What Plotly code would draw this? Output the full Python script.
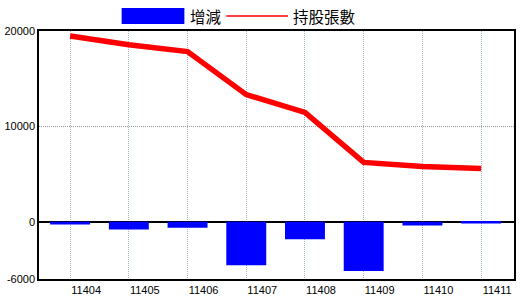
import plotly.graph_objects as go

months = ["11404", "11405", "11406", "11407", "11408", "11409", "11410", "11411"]
change = [-280, -800, -620, -4550, -1840, -5170, -380, -170]
holdings = [19480, 18560, 17840, 13330, 11460, 6220, 5800, 5590]
y_ticks = [-6000, 0, 10000, 20000]

W, H = 520, 300
L, R, T, B = 39, 4, 31, 20
pw, ph = W - L - R, H - T - B

def px_x(p):
    return (p - L) / pw

def px_y(p):
    return (H - B - p) / ph

fig = go.Figure()
fig.add_trace(go.Bar(x=months, y=change, marker=dict(color="#0000FF", line=dict(width=0)),
                     width=0.68, name="增減"))
fig.add_trace(go.Scatter(x=months, y=holdings, mode="lines",
                         line=dict(color="#FF0000", width=5.5), name="持股張數"))

font_num = dict(family="Liberation Sans, Arial", size=11, color="black")
fig.update_layout(
    width=W, height=H,
    margin=dict(l=L, r=R, t=T, b=B, pad=0),
    paper_bgcolor="white", plot_bgcolor="white",
    showlegend=False,
    xaxis=dict(type="category", range=[-0.53, 7.56], showgrid=True, gridcolor="#9DB8C9",
               griddash="1px,1px", gridwidth=1, ticks="", tickfont=font_num,
               ticklabelshift=16, showline=True, linecolor="black", linewidth=1.5, mirror=True,
               zeroline=False),
    yaxis=dict(range=[-6000, 20000], tickvals=y_ticks, ticktext=[str(v) for v in y_ticks],
               showgrid=True, gridcolor="#999999", griddash="1px,1px", gridwidth=1,
               ticks="", tickfont=font_num, showline=True, linecolor="black", linewidth=1.5,
               mirror=True, zeroline=True, zerolinecolor="black", zerolinewidth=1.5),
)

# custom legend
fig.add_shape(type="rect", xref="paper", yref="paper",
              x0=px_x(122), x1=px_x(185), y0=px_y(24), y1=px_y(8),
              fillcolor="#0000FF", line=dict(width=0))
fig.add_shape(type="line", xref="paper", yref="paper",
              x0=px_x(227), x1=px_x(289), y0=px_y(16), y1=px_y(16),
              line=dict(color="#FF0000", width=1.5))
cjk = dict(family="Noto Sans CJK TC", size=15.5, color="black")
fig.add_annotation(text="增減", xref="paper", yref="paper", x=px_x(189), y=px_y(16),
                   xanchor="left", yanchor="middle", showarrow=False, font=cjk)
fig.add_annotation(text="持股張數", xref="paper", yref="paper", x=px_x(292), y=px_y(16),
                   xanchor="left", yanchor="middle", showarrow=False, font=cjk)

fig.write_html("out.html")
